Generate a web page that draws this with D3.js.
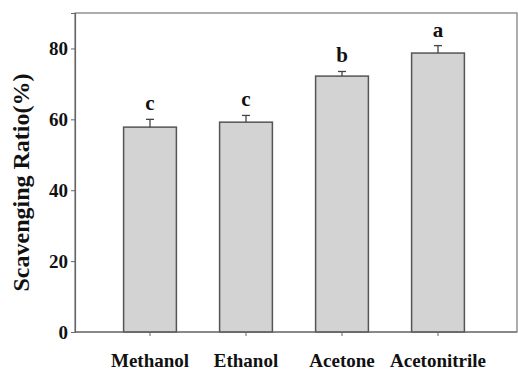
<!DOCTYPE html>
<html><head><meta charset="utf-8">
<script src="https://cdn.jsdelivr.net/npm/d3@7"></script>
<style>html,body{margin:0;padding:0;background:#fff;}svg{display:block;}
svg text{font-family:"Liberation Serif",serif !important;font-weight:bold;fill:#111;}</style>
</head><body>
<svg id="chart" width="518" height="370"></svg>
<script>
const categories = ["Methanol", "Ethanol", "Acetone", "Acetonitrile"];
const values = [57.8, 59.2, 72.2, 78.7];
const errors = [2.2, 1.9, 1.3, 2.1];
const letters = ["c", "c", "b", "a"];
const yTicks = [0, 20, 40, 60, 80];
const yTitle = "Scavenging Ratio(%)";

const svg = d3.select("#chart");
const L = 75, R = 517, T = 13, B = 332;

const y = d3.scaleLinear().domain([0, 90]).range([B, T]);
const x = d3.scaleBand().domain(categories).range([102, 486]).paddingInner(0.45).paddingOuter(0.225);

// frame
svg.append("rect").attr("x", L).attr("y", T).attr("width", R - L).attr("height", B - T)
  .attr("fill", "none").attr("stroke", "#777").attr("stroke-width", 1.2);

// bars
svg.selectAll("rect.bar").data(categories).enter().append("rect").attr("class", "bar")
  .attr("x", d => x(d)).attr("y", (d, i) => y(values[i]))
  .attr("width", x.bandwidth()).attr("height", (d, i) => y(0) - y(values[i]))
  .attr("fill", "#d3d3d3").attr("stroke", "#555").attr("stroke-width", 1.5);

// error bars (upper)
const eg = svg.selectAll("g.err").data(categories).enter().append("g").attr("class", "err");
eg.append("line")
  .attr("x1", d => x(d) + x.bandwidth() / 2).attr("x2", d => x(d) + x.bandwidth() / 2)
  .attr("y1", (d, i) => y(values[i])).attr("y2", (d, i) => y(values[i] + errors[i]))
  .attr("stroke", "#444").attr("stroke-width", 1.3);
eg.append("line")
  .attr("x1", d => x(d) + x.bandwidth() / 2 - 4).attr("x2", d => x(d) + x.bandwidth() / 2 + 4)
  .attr("y1", (d, i) => y(values[i] + errors[i])).attr("y2", (d, i) => y(values[i] + errors[i]))
  .attr("stroke", "#444").attr("stroke-width", 1.3);

// letters
svg.selectAll("text.letter").data(categories).enter().append("text").attr("class", "letter")
  .attr("x", d => x(d) + x.bandwidth() / 2)
  .attr("y", (d, i) => y(values[i] + errors[i]) - 9)
  .attr("text-anchor", "middle")
  .attr("font-size", 21)
  .text((d, i) => letters[i]);

// y axis
const yAxis = d3.axisLeft(y).tickValues(yTicks).tickSize(4).tickPadding(3).tickFormat(d3.format("d"));
const gy = svg.append("g").attr("transform", `translate(${L},0)`).call(yAxis)
  .attr("font-family", "Liberation Serif").attr("font-size", 19);
gy.select(".domain").attr("stroke", "#666").attr("stroke-width", 1.2);
gy.selectAll(".tick line").attr("stroke", "#666");

// x axis
const xAxis = d3.axisBottom(x).tickSize(4).tickPadding(18);
const gx = svg.append("g").attr("transform", `translate(0,${B})`).call(xAxis)
  .attr("font-family", "Liberation Serif").attr("font-size", 19);
gx.select(".domain").attr("stroke", "#666").attr("stroke-width", 1.2).attr("d", `M${L},0H${R}`);
gx.selectAll(".tick line").attr("stroke", "#666");

// y title
svg.append("text").attr("transform", `translate(29,${(67 + 298) / 2}) rotate(-90)`)
  .attr("text-anchor", "middle").attr("font-size", 24)
  .text(yTitle);
</script>
</body></html>
